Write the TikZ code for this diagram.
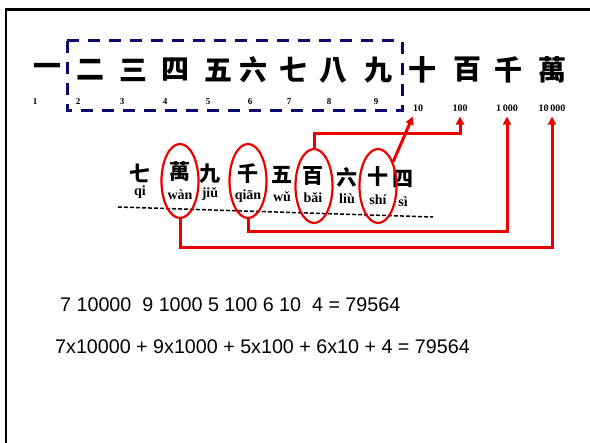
\documentclass[tikz,border=0pt]{standalone}
\usepackage{fontspec}
\setmainfont{Liberation Sans}
\newfontfamily\cjk{Noto Sans CJK TC}
\newfontfamily\serifnum{Liberation Serif}
\usetikzlibrary{shapes.geometric,arrows.meta,calc}
\definecolor{navy}{RGB}{10,10,110}
\definecolor{redline}{RGB}{235,0,0}
\begin{document}
\begin{tikzpicture}[x=1pt,y=-1pt,
  bigch/.style={inner sep=0pt,font=\cjk\bfseries\fontsize{28}{28}\selectfont},
  midch/.style={inner sep=0pt,font=\cjk\bfseries\fontsize{21}{21}\selectfont},
  pin/.style={inner sep=0pt,font=\serifnum\bfseries\fontsize{14}{14}\selectfont},
  smallnum/.style={inner sep=0pt,font=\serifnum\bfseries\fontsize{9}{9}\selectfont},
  placelab/.style={inner xsep=0pt,inner ysep=5pt,font=\serifnum\bfseries\fontsize{10}{10}\selectfont},
  ring/.style={draw=redline,line width=2.2pt,ellipse,minimum width=37pt,minimum height=74pt,inner sep=0pt},
  conn/.style={draw=redline,line width=3pt,-{Triangle[length=8pt,width=8pt]}},
  eq/.style={inner sep=0pt,anchor=west,font=\fontsize{19.7}{20}\selectfont}]
\useasboundingbox (0,0) rectangle (590,443);
% frame
\draw[line width=2.7pt] (6,443) -- (6,9.5) -- (592,9.5);
% dashed box
\draw[navy,line width=3pt,dash pattern=on 12pt off 9pt] (67,41) rectangle (402,111);
% top row characters
\foreach \c/\x [count=\i] in {一/48,二/90,三/133,四/175,五/218,六/253,七/293,八/333,九/378,十/422,百/467,千/508,萬/552}
  \node[bigch] (t\i) at (\x,70) {\c};
% top row numerals
\foreach \n/\x in {1/35,2/78,3/122,4/165,5/208,6/250,7/289,8/329,9/376}
  \node[smallnum] (n\n) at (\x,102) {\n};
\node[placelab] (l10) at (418,108) {10};
\node[placelab] (l100) at (460,108) {100};
\node[placelab] (l1000) at (507,108) {1\,000};
\node[placelab] (l10000) at (552,108) {10\,000};
% middle row
\foreach \c/\x/\y [count=\i] in {七/140/173,萬/180/172,九/210/174,千/248/174,五/282/175,百/313/176,六/347/177,十/378/177,四/403/179}
  \node[midch] (m\i) at (\x,\y) {\c};
\foreach \p/\x/\y [count=\i] in {qi/140/192,wàn/180/195,jiǔ/210/194,qiān/248/196,wǔ/282/197,bǎi/313/198,liù/347/199,shí/378/200,sì/403/202}
  \node[pin] (p\i) at (\x,\y) {\p};
\coordinate (dl) at (118,207);
\coordinate (dr) at (433,217);
\draw[line width=1.5pt,dash pattern=on 4pt off 2pt] (dl) -- (dr);
% rings
\node[ring] (ewan) at (180,181) {};
\node[ring] (eqian) at (248,181) {};
\node[ring] (ebai) at (314,186) {};
\node[ring] (eshi) at (378,186) {};
% connectors
\draw[conn] (eshi.58) -- (l10.south west);
\draw[conn] (ebai.north) -- ++(0,-14) -| (l100.south);
\draw[conn] (eqian.south) -- ++(0,12) -| (l1000.south);
\draw[conn] (ewan.south) -- ++(0,28) -| (l10000.south);
% equations
\node[eq] (eq1) at (60,305) {7 10000\ \ 9 1000 5 100 6 10\ \ 4 = 79564};
\node[eq] (eq2) at (55,347) {7x10000 + 9x1000 + 5x100 + 6x10 + 4 = 79564};
\end{tikzpicture}
\end{document}
